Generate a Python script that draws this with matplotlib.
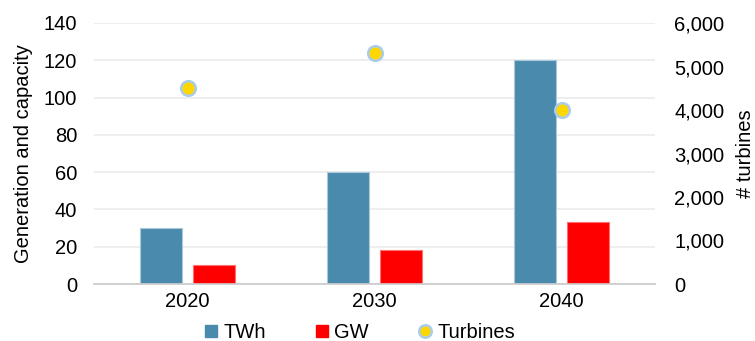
import matplotlib
matplotlib.use("Agg")
import matplotlib.pyplot as plt
from matplotlib.lines import Line2D
from matplotlib.ticker import FuncFormatter
import numpy as np

years = ["2020", "2030", "2040"]
twh = [30, 60, 120]
gw = [10, 18, 33]
turbines = [4500, 5300, 4000]

plt.rcParams["font.family"] = ["Liberation Sans", "DejaVu Sans"]
FS = 14.5

fig = plt.figure(figsize=(7.55, 3.41), dpi=100)
ax = fig.add_axes([94 / 755, 1 - 284 / 341, (655 - 94) / 755, (284 - 23) / 341])
ax2 = ax.twinx()

x = np.arange(len(years))
w = 0.225
off = 0.143
blue = "#4A8BAD"
red = "#FF0000"

ax.bar(x - off, twh, width=w, color=blue, edgecolor="#A9C8DA", linewidth=0.8, zorder=3)
ax.bar(x + off, gw, width=w, color=red, edgecolor="#FF7070", linewidth=0.8, zorder=3)
ax2.plot(x, turbines, linestyle="none", marker="o", markersize=10.5,
         markerfacecolor="#FFD700", markeredgecolor="#A9CCEB", markeredgewidth=1.8, zorder=4)

ax.set_xlim(-0.5, 2.5)
ax.set_ylim(0, 140)
ax.set_yticks(range(0, 141, 20))
ax2.set_ylim(0, 6000)
ax2.set_yticks(range(0, 6001, 1000))
ax2.yaxis.set_major_formatter(FuncFormatter(lambda v, p: f"{int(v):,}"))

ax.set_xticks(x)
ax.set_xticklabels(years)

ax.grid(axis="y", color="#EBEBEB", linewidth=1.2, zorder=0)
ax.set_axisbelow(True)
for a in (ax, ax2):
    for s in ("top", "left", "right"):
        a.spines[s].set_visible(False)
    a.spines["bottom"].set_color("#D0D0D0")
    a.spines["bottom"].set_linewidth(1.2)
    a.tick_params(length=0, labelsize=FS, colors="black")
ax.tick_params(axis="y", pad=12)
ax2.tick_params(axis="y", pad=14)
ax.tick_params(axis="x", pad=6)

ax.set_ylabel("Generation and capacity", fontsize=FS, labelpad=8)
ax2.set_ylabel("# turbines", fontsize=FS, labelpad=8)

handles = [
    Line2D([], [], linestyle="none", marker="s", markersize=9, color=blue),
    Line2D([], [], linestyle="none", marker="s", markersize=9, color=red),
    Line2D([], [], linestyle="none", marker="o", markersize=9,
           markerfacecolor="#FFD700", markeredgecolor="#A9CCEB", markeredgewidth=1.8),
]
fig.legend(handles, ["TWh", "GW", "Turbines"], loc="lower center",
           bbox_to_anchor=(358 / 755, -0.045), ncol=3, frameon=False, fontsize=FS,
           handletextpad=0.1, columnspacing=2.3, handlelength=1.0, borderpad=0.2)

fig.savefig("out.png", dpi=100)
